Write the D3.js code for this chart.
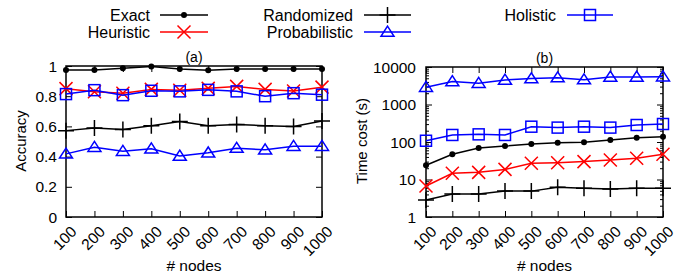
<!DOCTYPE html>
<html><head><meta charset="utf-8">
<script src="https://cdn.jsdelivr.net/npm/d3@7"></script>
<style>body{margin:0;background:#fff}svg{display:block}text{font-family:"Liberation Sans",Arial,sans-serif;fill:#000}</style>
</head><body><svg id="c" width="688" height="280"></svg>
<script>
const nodes = [100,200,300,400,500,600,700,800,900,1000];
const seriesNames = ["Exact","Heuristic","Randomized","Probabilistic","Holistic"];
const accExact = [0.974,0.974,0.985,0.997,0.98,0.972,0.98,0.98,0.98,0.98];
const accHeuristic = [0.85,0.83,0.82,0.845,0.84,0.852,0.865,0.845,0.835,0.86];
const accRandomized = [0.572,0.59,0.58,0.605,0.632,0.605,0.612,0.605,0.6,0.636];
const accProbabilistic = [0.418,0.462,0.436,0.452,0.404,0.425,0.456,0.445,0.469,0.469];
const accHolistic = [0.814,0.84,0.807,0.836,0.832,0.842,0.832,0.8,0.82,0.81];
const timeExact = [24,47,69,78,88,96,98,113,130,138];
const timeHeuristic = [6.7,14.6,15.5,18.6,27,28,30,33,37,47];
const timeRandomized = [2.85,4.1,4.1,4.9,4.9,6.2,5.8,5.6,5.8,5.8];
const timeProbabilistic = [2900,4100,3700,4500,4900,5200,4600,5400,5400,5500];
const timeHolistic = [108,154,160,154,256,242,256,242,284,302];
const accTicks = [0,0.2,0.4,0.6,0.8,1];
const accTickLabels = ["0","0.2","0.4","0.6","0.8","1"];
const timeTicks = [1,10,100,1000,10000];
const timeTickLabels = ["1","10","100","1000","10000"];

const colors = {Exact:"#000",Heuristic:"#f00",Randomized:"#000",Probabilistic:"#00f",Holistic:"#00f"};
const svg = d3.select("#c");

function marker(g, name, x, y){
  const c = colors[name];
  if(name==="Exact"){ g.append("circle").attr("cx",x).attr("cy",y).attr("r",3).attr("fill",c); }
  else if(name==="Heuristic"){ const s=6.5; g.append("path").attr("d",`M${x-s},${y-s}L${x+s},${y+s}M${x-s},${y+s}L${x+s},${y-s}`).attr("stroke",c).attr("stroke-width",1.5).attr("fill","none"); }
  else if(name==="Randomized"){ const s=8; g.append("path").attr("d",`M${x-s},${y}L${x+s},${y}M${x},${y-s}L${x},${y+s}`).attr("stroke",c).attr("stroke-width",1.5).attr("fill","none"); }
  else if(name==="Probabilistic"){ const s=6.5; g.append("path").attr("d",`M${x},${y-s*0.9}L${x+s},${y+s*0.65}L${x-s},${y+s*0.65}Z`).attr("stroke",c).attr("stroke-width",1.5).attr("fill","none"); }
  else if(name==="Holistic"){ const s=5.5; g.append("rect").attr("x",x-s).attr("y",y-s).attr("width",2*s).attr("height",2*s).attr("stroke",c).attr("stroke-width",1.5).attr("fill","none"); }
}

function panel(opts){
  const {x0,x1,y0,y1,yScale,data,ticks,tickLabels,title,ylabel,ylabelX,labelOff,log} = opts;
  const x = d3.scalePoint().domain(nodes).range([x0,x1]);
  const y = yScale.range([y1,y0]);
  const g = svg.append("g");
  g.append("rect").attr("x",x0).attr("y",y0).attr("width",x1-x0).attr("height",y1-y0).attr("fill","none").attr("stroke","#000").attr("stroke-width",1.5);
  g.append("g").attr("transform",`translate(${x0},0)`).call(d3.axisRight(y).tickValues(ticks).tickSize(6).tickFormat(""));
  g.append("g").attr("transform",`translate(${x1},0)`).call(d3.axisLeft(y).tickValues(ticks).tickSize(6).tickFormat(""));
  g.append("g").attr("transform",`translate(0,${y1})`).call(d3.axisTop(x).tickSize(6).tickFormat(""));
  g.append("g").attr("transform",`translate(0,${y0})`).call(d3.axisBottom(x).tickSize(6).tickFormat(""));
  if(log){
    const minor=[];
    for(let d=1; d<10000; d*=10) for(let k=2;k<10;k++) minor.push(d*k);
    g.append("g").attr("transform",`translate(${x0},0)`).call(d3.axisRight(y).tickValues(minor).tickSize(3).tickFormat(""));
    g.append("g").attr("transform",`translate(${x1},0)`).call(d3.axisLeft(y).tickValues(minor).tickSize(3).tickFormat(""));
  }
  g.selectAll(".domain").remove();
  g.selectAll(".tick line").attr("stroke","#000").attr("stroke-width",1);
  g.selectAll(".ylab").data(ticks).join("text").attr("x",x0-labelOff).attr("y",d=>y(d)).attr("dy","0.36em")
    .attr("text-anchor","end").attr("font-size",15.5).text((d,i)=>tickLabels[i]);
  g.selectAll(".xlab").data(nodes).join("text").attr("transform",d=>`translate(${x(d)+4},${y1+8}) rotate(-45)`)
    .attr("dy","0.7em").attr("text-anchor","end").attr("font-size",15.5).text(d=>d);
  g.append("text").attr("x",(x0+x1)/2).attr("y",y0-4).attr("text-anchor","middle").attr("font-size",14).text(title);
  g.append("text").attr("x",(x0+x1)/2).attr("y",271).attr("text-anchor","middle").attr("font-size",15.5).text("# nodes");
  g.append("text").attr("transform",`translate(${ylabelX},141) rotate(-90)`).attr("dy","0.35em").attr("text-anchor","middle").attr("font-size",15).text(ylabel);
  const line = d3.line().x((d,i)=>x(nodes[i])).y(d=>y(d));
  seriesNames.forEach((name,k)=>{
    const vals = data[k];
    g.append("path").attr("d",line(vals)).attr("fill","none").attr("stroke",colors[name]).attr("stroke-width",1.5);
    vals.forEach((v,i)=>marker(g,name,x(nodes[i]),y(v)));
  });
}

panel({x0:66,x1:322,y0:66,y1:217,yScale:d3.scaleLinear().domain([0,1]),
  data:[accExact,accHeuristic,accRandomized,accProbabilistic,accHolistic],
  ticks:accTicks,tickLabels:accTickLabels,title:"(a)",ylabel:"Accuracy",ylabelX:21,labelOff:9,log:false});
panel({x0:426,x1:663,y0:67,y1:217,yScale:d3.scaleLog().domain([1,10000]),
  data:[timeExact,timeHeuristic,timeRandomized,timeProbabilistic,timeHolistic],
  ticks:timeTicks,tickLabels:timeTickLabels,title:"(b)",ylabel:"Time cost (s)",ylabelX:362,labelOff:10,log:true});

const legendPos = [
  {name:"Exact",tx:150,lx0:160,lx1:208,y:15},
  {name:"Heuristic",tx:150,lx0:160,lx1:208,y:32},
  {name:"Randomized",tx:353,lx0:364,lx1:411,y:15},
  {name:"Probabilistic",tx:353,lx0:364,lx1:411,y:32},
  {name:"Holistic",tx:556,lx0:567,lx1:613,y:15}
];
const lg = svg.append("g");
legendPos.forEach(p=>{
  lg.append("text").attr("x",p.tx).attr("y",p.y).attr("dy","0.36em").attr("text-anchor","end").attr("font-size",16).text(p.name);
  lg.append("line").attr("x1",p.lx0).attr("x2",p.lx1).attr("y1",p.y).attr("y2",p.y).attr("stroke",colors[p.name]).attr("stroke-width",1.5);
  marker(lg,p.name,(p.lx0+p.lx1)/2,p.y);
});
</script></body></html>
